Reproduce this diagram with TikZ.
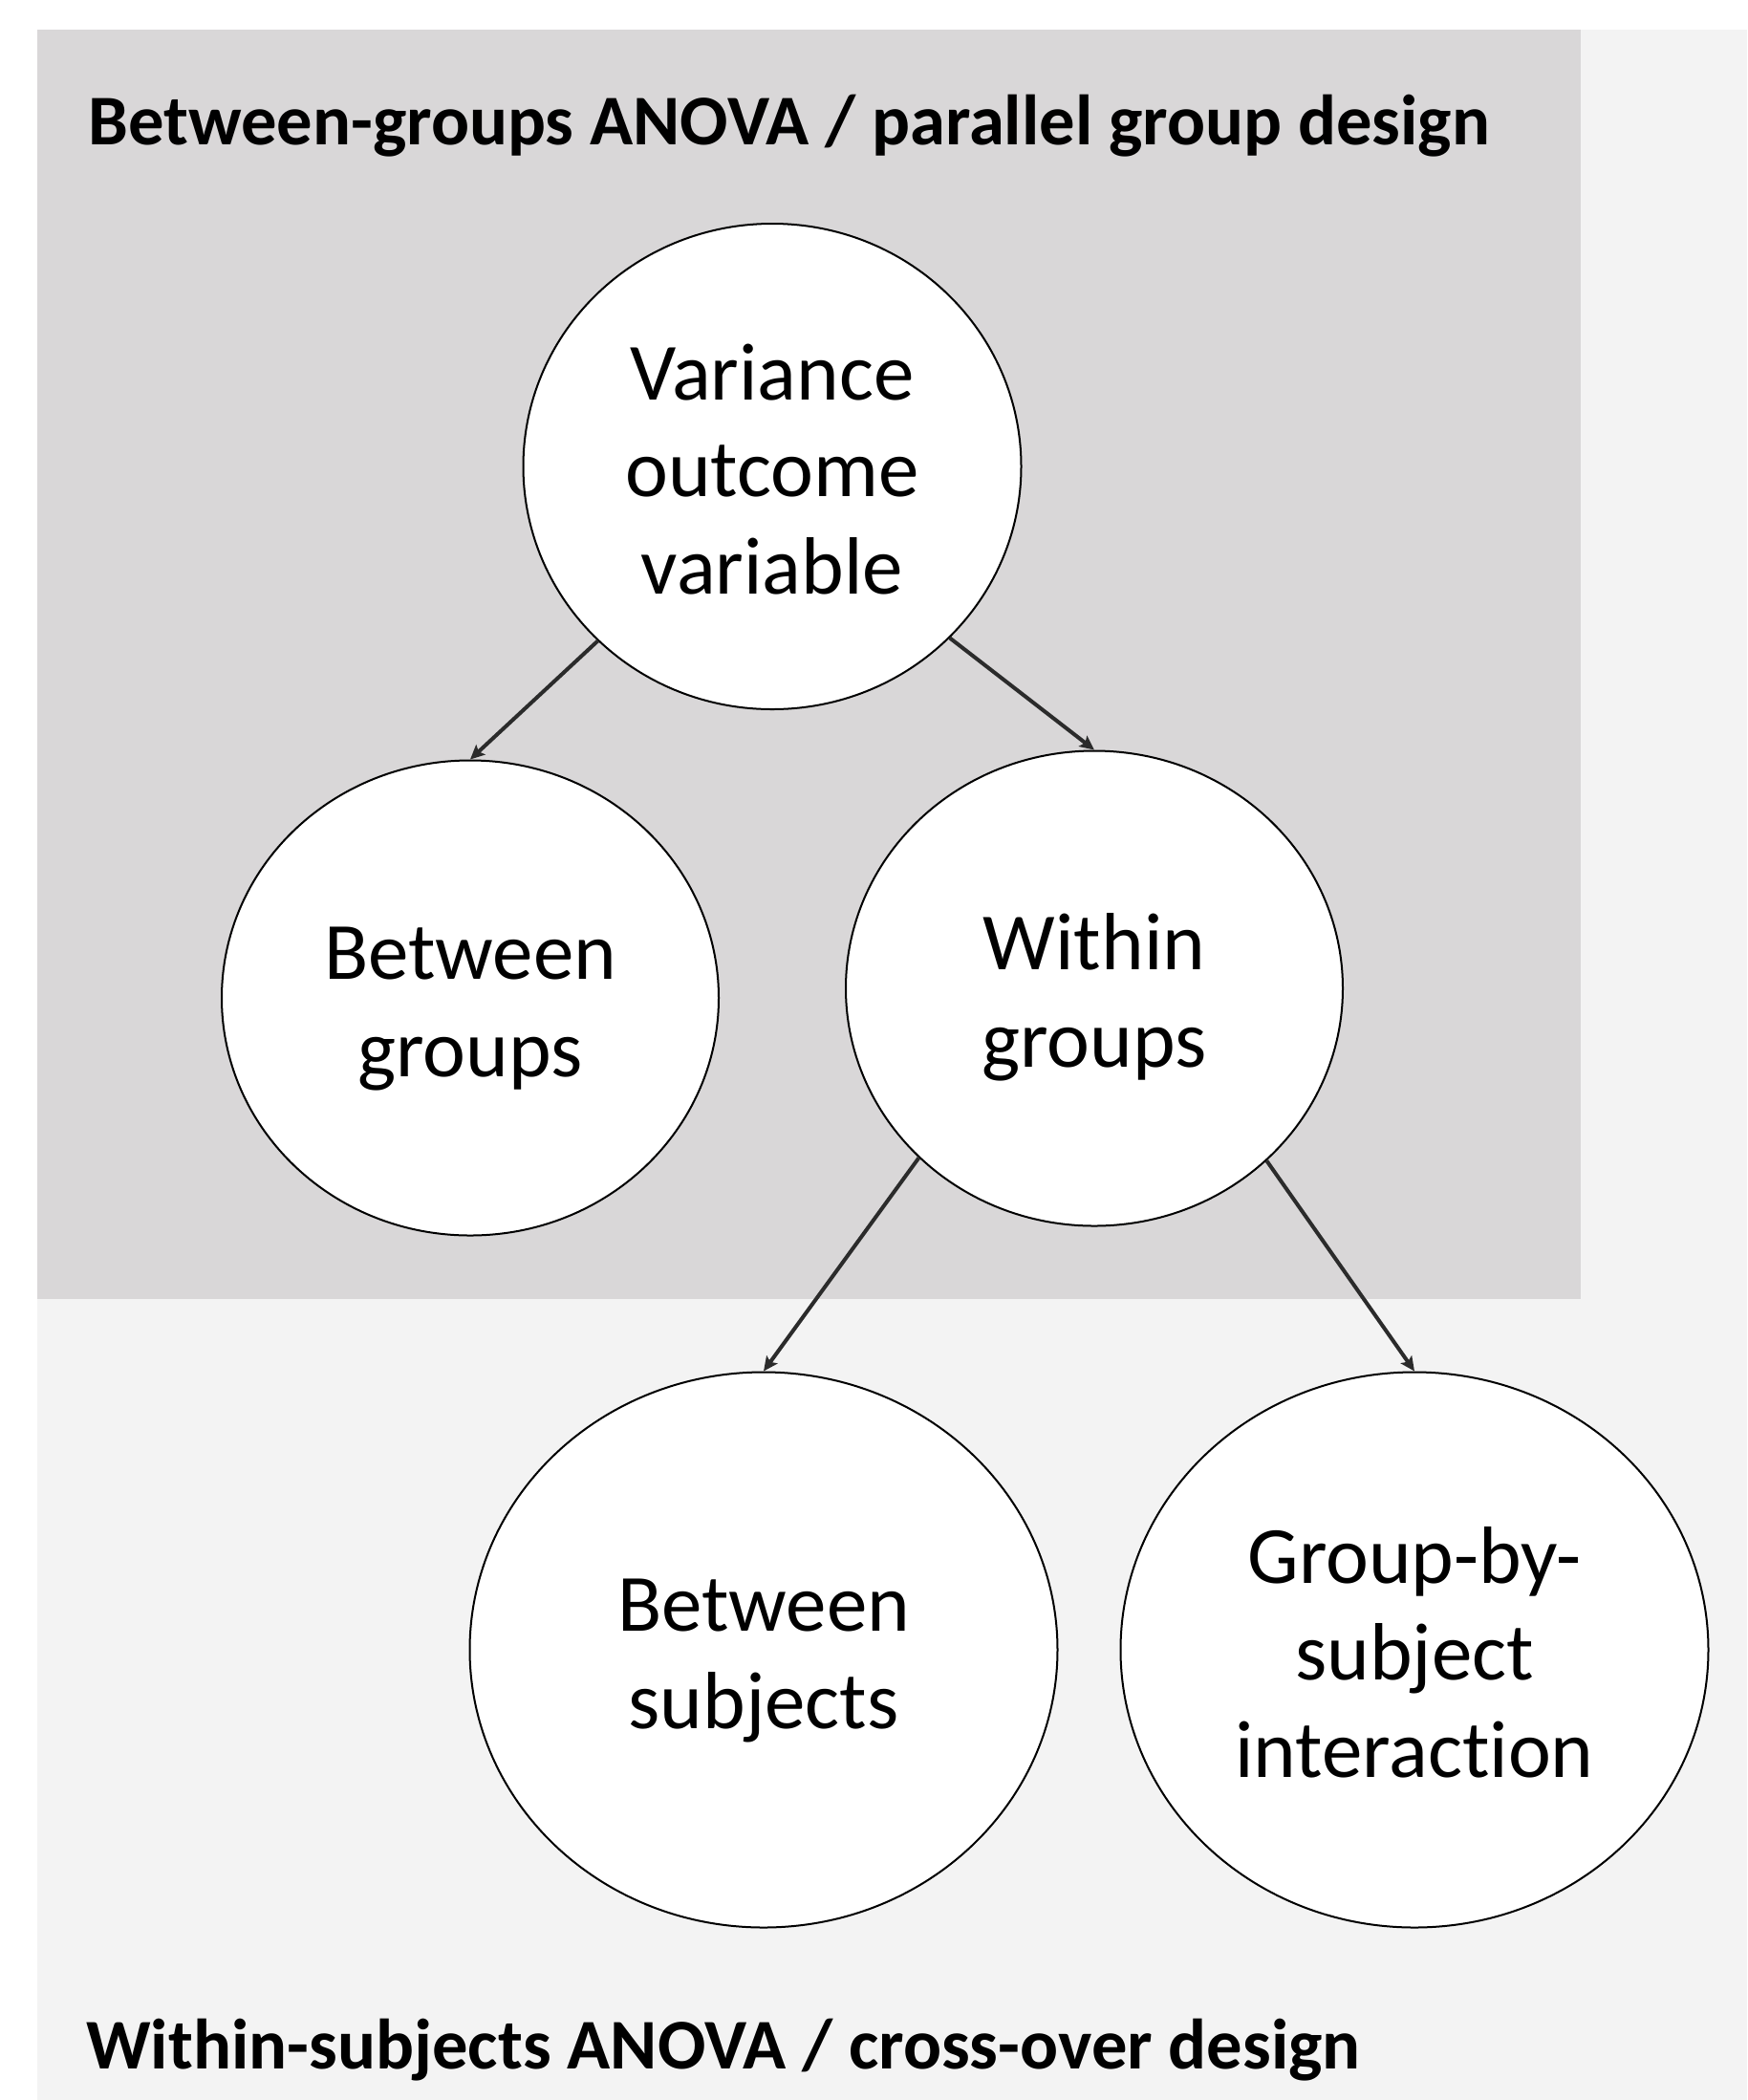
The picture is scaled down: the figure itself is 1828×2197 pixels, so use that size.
\documentclass[tikz,border=0pt]{standalone}
\usepackage{fontspec}
\setmainfont[Ligatures=NoCommon]{Carlito}
\usetikzlibrary{arrows.meta,shapes.geometric}
\definecolor{darkbg}{HTML}{D9D7D8}
\definecolor{lightbg}{HTML}{F3F3F3}
\definecolor{arrowcol}{HTML}{2B2B2B}
\newcommand\tstrut{\rule{0pt}{46.8pt}}
\newcommand\bstrut{\rule[-15.2pt]{0pt}{0pt}}
\begin{document}
\begin{tikzpicture}[x=0.5pt,y=-0.5pt,
  bubble/.style={ellipse, draw=black, line width=1pt, fill=white, inner sep=0pt, align=center,
    font=\fontsize{42.5}{50.8}\selectfont},
  arr/.style={draw=arrowcol, line width=2pt, -{Stealth[length=7.5pt,width=7pt,inset=1.5pt]}},
  title/.style={anchor=base west, inner sep=0pt, font=\fontsize{37.3}{44}\selectfont\bfseries}]
\useasboundingbox (0,0) rectangle (1828,2197);
\fill[white] (0,0) rectangle (1828,2197);
\fill[lightbg] (39,31) rectangle (1828,2197);
\fill[darkbg] (39,31) rectangle (1654,1359);
\node[title] (t1) at (92,151) {Between-groups ANOVA / parallel group design};
\node[title] (t2) at (90,2164) {Within-subjects ANOVA / cross-over design};
\node[bubble, minimum width=260.5pt, minimum height=254pt] (c1) at (808,488) {\tstrut Variance\\outcome\\variable\bstrut};
\node[bubble, minimum width=260pt, minimum height=248.5pt] (c2) at (492,1044) {\tstrut Between\\groups\bstrut};
\node[bubble, minimum width=260pt, minimum height=248.5pt] (c3) at (1145,1034) {\tstrut Within\\groups\bstrut};
\node[bubble, minimum width=307.5pt, minimum height=290.5pt] (c4) at (799,1726) {\tstrut Between\\subjects\bstrut};
\node[bubble, minimum width=307.5pt, minimum height=290.5pt] (c5) at (1480,1726) {\tstrut Group-by-\\subject\\interaction\bstrut};
\draw[arr] (c1.225) -- (c2.north);
\draw[arr] (c1.316) -- (c3.north);
\draw[arr] (c3.224) -- (c4.north);
\draw[arr] (c3.315) -- (c5.north);
\end{tikzpicture}
\end{document}
